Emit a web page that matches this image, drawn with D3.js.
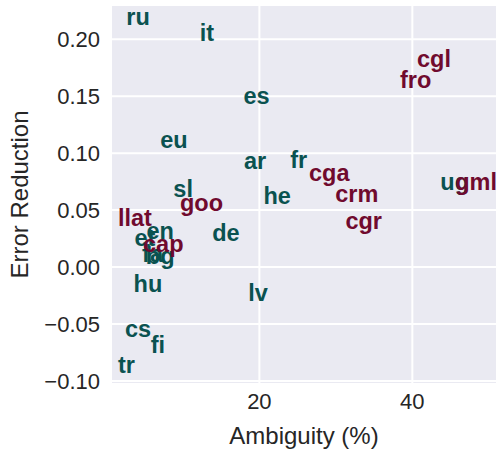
<!DOCTYPE html>
<html lang="en">
<head>
    <meta charset="UTF-8">
    <title>Ambiguity vs Error Reduction</title>
    <script src="https://d3js.org/d3.v7.min.js"></script>
    <style>
        body { margin: 0; background: white; font-family: "Liberation Sans", Arial, sans-serif; }
        svg { display: block; }
    </style>
</head>
<body>
    <svg id="chart" width="497" height="449"></svg>

    <script>
        // UD languages (teal)
        const langNames = ["ru", "it", "es", "eu", "ar", "fr", "sl", "he", "en", "et", "hu", "de", "lv", "cs", "fi", "tr", "fa", "bg", "ug"];
        const langAmbig = [4.2, 13.2, 19.7, 8.9, 19.5, 25.2, 10.1, 22.4, 7.1, 5.1, 5.5, 15.7, 19.9, 4.2, 6.8, 2.7, 6.1, 7.1, 45.6];
        const langErr = [0.219, 0.205, 0.150, 0.111, 0.093, 0.094, 0.068, 0.062, 0.031, 0.025, -0.015, 0.030, -0.023, -0.055, -0.069, -0.086, 0.011, 0.0096, 0.074];

        // historical corpora (dark red)
        const histNames = ["cgl", "fro", "cga", "crm", "cgr", "goo", "llat", "cap", "gml"];
        const histAmbig = [42.9, 40.5, 29.2, 32.8, 33.7, 12.5, 3.8, 7.5, 48.4];
        const histErr = [0.182, 0.164, 0.082, 0.064, 0.040, 0.056, 0.043, 0.020, 0.074];

        const xTicks = [20, 40];
        const yTicks = [-0.10, -0.05, 0.00, 0.05, 0.10, 0.15, 0.20];

        const svg = d3.select("#chart");
        const margin = { left: 112, right: 1, top: 6, bottom: 66 };
        const width = +svg.attr("width");
        const height = +svg.attr("height");

        const x = d3.scaleLinear().domain([0.8, 51.0]).range([margin.left, width - margin.right]);
        const y = d3.scaleLinear().domain([-0.1022, 0.2287]).range([height - margin.bottom, margin.top]);

        svg.append("rect")
            .attr("x", margin.left)
            .attr("y", margin.top)
            .attr("width", width - margin.left - margin.right)
            .attr("height", height - margin.top - margin.bottom)
            .attr("fill", "#eaeaf2");

        const xAxis = svg.append("g")
            .attr("transform", `translate(0,${height - margin.bottom})`)
            .call(d3.axisBottom(x).tickValues(xTicks).tickSize(-(height - margin.top - margin.bottom)).tickPadding(10));
        const yAxis = svg.append("g")
            .attr("transform", `translate(${margin.left},0)`)
            .call(d3.axisLeft(y).tickValues(yTicks).tickFormat(d3.format(".2f")).tickSize(-(width - margin.left - margin.right)).tickPadding(12));

        [xAxis, yAxis].forEach(ax => {
            ax.select(".domain").remove();
            ax.selectAll(".tick line").attr("stroke", "white").attr("stroke-width", 2);
            ax.selectAll(".tick text")
                .attr("fill", "#262626")
                .style("font-size", "22px")
                .style("font-family", "'Liberation Sans', Arial, sans-serif");
        });
        yAxis.selectAll(".tick text").attr("dy", "0.35em");
        xAxis.selectAll(".tick text").attr("dy", "0.71em");

        svg.append("text")
            .attr("x", (margin.left + width - margin.right) / 2)
            .attr("y", 444)
            .attr("text-anchor", "middle")
            .attr("fill", "#262626")
            .style("font-size", "24px")
            .text("Ambiguity (%)");

        svg.append("text")
            .attr("transform", `translate(28,${(margin.top + height - margin.bottom) / 2}) rotate(-90)`)
            .attr("text-anchor", "middle")
            .attr("fill", "#262626")
            .style("font-size", "24px")
            .text("Error Reduction");

        const lang = langNames.map((n, i) => ({ name: n, ax: langAmbig[i], er: langErr[i] }));
        const hist = histNames.map((n, i) => ({ name: n, ax: histAmbig[i], er: histErr[i] }));

        function drawLabels(data, color) {
            svg.append("g").selectAll("text")
                .data(data)
                .enter()
                .append("text")
                .attr("x", d => x(d.ax))
                .attr("y", d => y(d.er))
                .attr("dy", "0.35em")
                .attr("text-anchor", "middle")
                .attr("fill", color)
                .style("font-size", "23.5px")
                .style("font-weight", "bold")
                .text(d => d.name);
        }

        drawLabels(lang, "#0a5250");
        drawLabels(hist, "#700a2e");
    </script>
</body>
</html>
